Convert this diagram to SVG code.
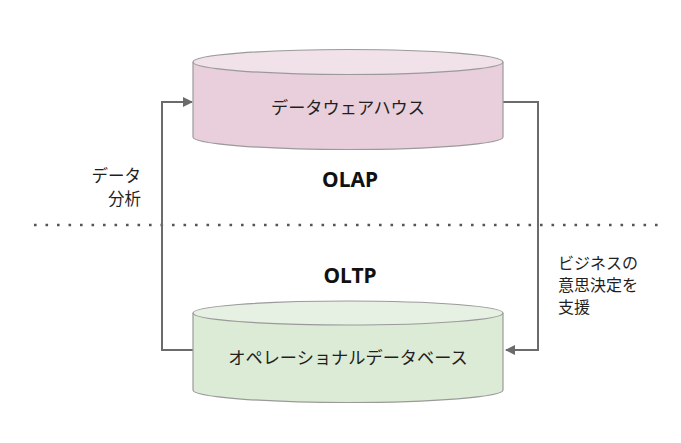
<svg xmlns="http://www.w3.org/2000/svg" width="681" height="443" viewBox="0 0 681 443">
<style>
.cyl{stroke:#9a9a9a;stroke-width:1.2}
.lbl{font-family:"Noto Sans CJK JP","Noto Sans",sans-serif;font-size:16.5px;fill:#1f1f1f}
.side{font-family:"Noto Sans CJK JP","Noto Sans",sans-serif;font-size:16px;fill:#1f1f1f}
.node{font-size:17.2px}
.big{font-family:"Noto Sans","Liberation Sans",sans-serif;font-size:21px;font-weight:bold;fill:#111}
.conn{fill:none;stroke:#6b6b6b;stroke-width:2}
</style>
<defs>
<marker id="ah" viewBox="0 0 10 10" refX="9" refY="5" markerWidth="10" markerHeight="10" markerUnits="userSpaceOnUse" orient="auto">
<path d="M0,0 L10,5 L0,10 z" fill="#6b6b6b"/>
</marker>
</defs>
<rect width="681" height="443" fill="#ffffff"/>
<line x1="34" y1="225" x2="664" y2="225" stroke="#555" stroke-width="2.6" stroke-dasharray="2.6 8.9"/>
<g id="connectors">
<path class="conn" d="M193,350 H162 V102 H192" marker-end="url(#ah)"/>
<path class="conn" d="M503,102 H538 V350 H506" marker-end="url(#ah)"/>
</g>
<g id="dwh">
<path class="cyl" d="M193,62 V137 A155,12.5 0 0 0 503,137 V62" fill="#e9cfdb"/>
<ellipse class="cyl" cx="348" cy="62" rx="155" ry="12.5" fill="#f1e1e9"/>
<text class="lbl node" x="348" y="114" text-anchor="middle">データウェアハウス</text>
</g>
<g id="odb">
<path class="cyl" d="M193,313 V390 A155,12.5 0 0 0 503,390 V313" fill="#dcebd5"/>
<ellipse class="cyl" cx="348" cy="313" rx="155" ry="12" fill="#e7f1e3"/>
<text class="lbl node" x="348" y="364" text-anchor="middle">オペレーショナルデータベース</text>
</g>
<g id="olap"><text class="big" x="350" y="187" text-anchor="middle">OLAP</text></g>
<g id="oltp"><text class="big" x="350" y="283" text-anchor="middle">OLTP</text></g>
<g id="left-label">
<text class="lbl" x="141" y="182" text-anchor="end">データ</text>
<text class="lbl" x="141" y="205" text-anchor="end">分析</text>
</g>
<g id="right-label">
<text class="side" x="558" y="269">ビジネスの</text>
<text class="side" x="558" y="291">意思決定を</text>
<text class="side" x="558" y="313">支援</text>
</g>
</svg>
